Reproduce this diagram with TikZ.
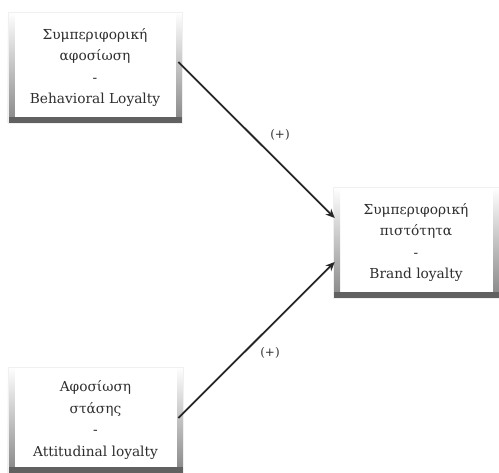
\documentclass[tikz,border=0pt]{standalone}
\usepackage{fontspec}
\setmainfont{DejaVu Serif}
\usetikzlibrary{arrows.meta,calc}
\definecolor{txt}{HTML}{2E2E2E}
\tikzset{
  box/.style={rectangle, inner sep=0pt, fill=white, draw=gray!12, line width=0.6bp,
    align=center, text=txt, font=\fontsize{13.8}{21.5}\selectfont,
    path picture={
      \shade[top color=white, bottom color=gray!95]
        (path picture bounding box.north west) rectangle ([xshift=7bp]path picture bounding box.south west);
      \shade[top color=white, bottom color=gray!95]
        (path picture bounding box.north east) rectangle ([xshift=-6bp]path picture bounding box.south east);
      \fill[black!62]
        (path picture bounding box.south west) rectangle ([yshift=6bp]path picture bounding box.south east);
    }},
  conn/.style={draw=black!85, line width=1.8bp, -{Stealth[length=9bp,width=8bp]}},
  sign/.style={text=txt, font=\fontsize{12}{13}\selectfont, inner sep=0pt}
}
\begin{document}
\begin{tikzpicture}[x=1bp,y=-1bp]
\useasboundingbox (0,0) rectangle (499,473);
\node[box, minimum width=174bp, minimum height=111bp] (beh) at (95,67.5)
  {Συμπεριφορική\\αφοσίωση\\-\\Behavioral Loyalty};
\node[box, minimum width=166bp, minimum height=111bp] (brand) at (416,242.5)
  {Συμπεριφορική\\πιστότητα\\-\\Brand loyalty};
\node[box, minimum width=175bp, minimum height=106bp] (att) at (95.5,420)
  {Αφοσίωση\\στάσης\\-\\Attitudinal loyalty};
\draw[conn] ([xshift=-4bp,yshift=5.5bp]beh.east) -- ([xshift=2bp,yshift=24.5bp]brand.west);
\draw[conn] ([xshift=-5bp,yshift=2bp]att.east) -- ([xshift=2bp,yshift=-19.5bp]brand.west);
\node[sign] (p1) at (280,135) {(+)};
\node[sign] (p2) at (270,353) {(+)};
\end{tikzpicture}
\end{document}
